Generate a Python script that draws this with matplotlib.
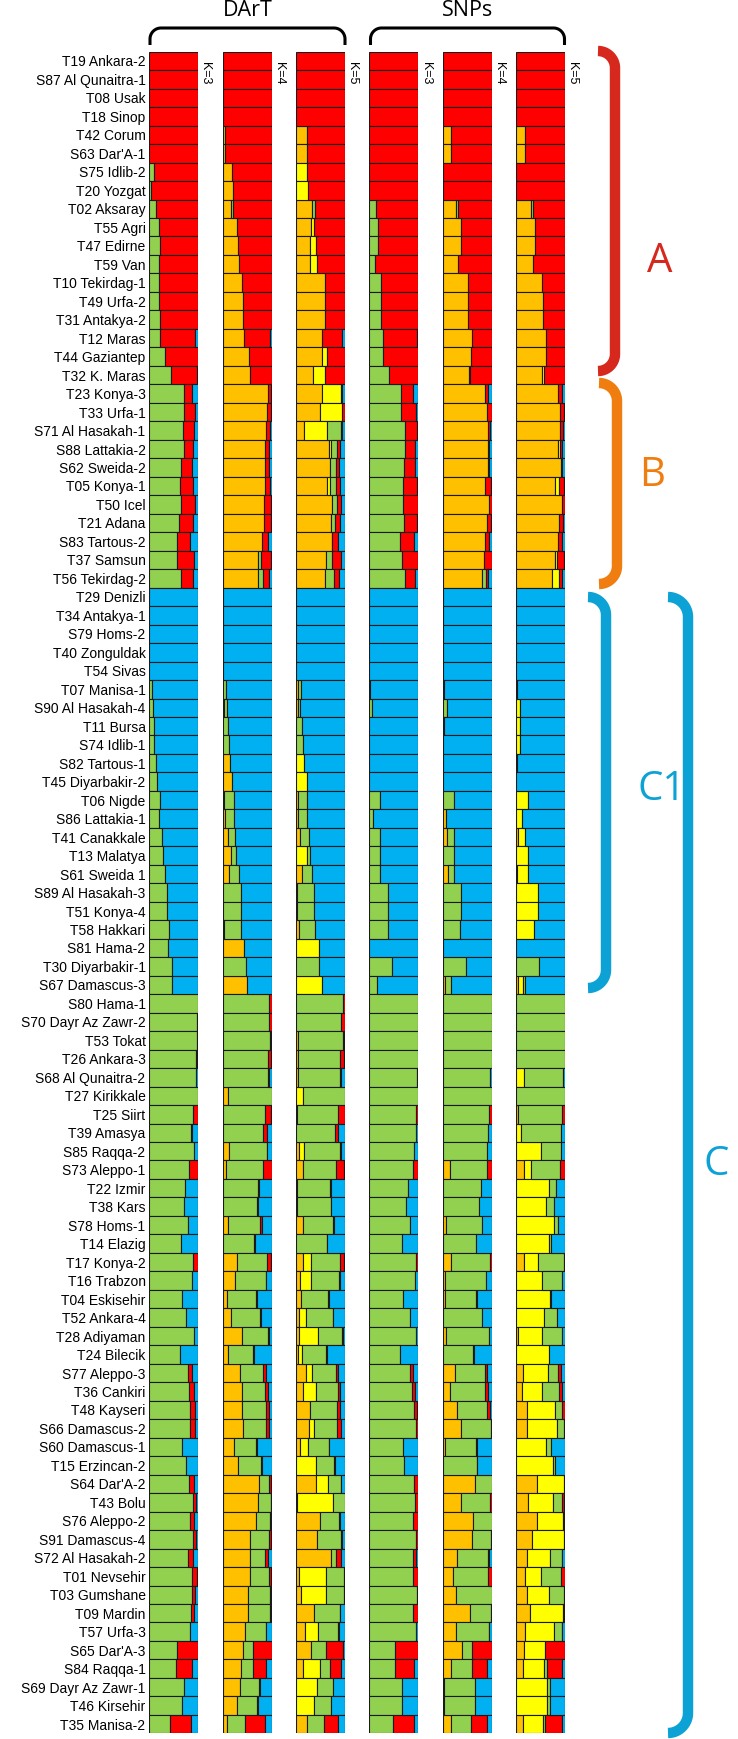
import numpy as np
import matplotlib
matplotlib.use("Agg")
import matplotlib.pyplot as plt

plt.rcParams['font.family'] = ['Liberation Sans', 'DejaVu Sans']

names = [
    "T19 Ankara-2", "S87 Al Qunaitra-1", "T08 Usak", "T18 Sinop", "T42 Corum",
    "S63 Dar'A-1", "S75 Idlib-2", "T20 Yozgat", "T02 Aksaray", "T55 Agri",
    "T47 Edirne", "T59 Van", "T10 Tekirdag-1", "T49 Urfa-2", "T31 Antakya-2",
    "T12 Maras", "T44 Gaziantep", "T32 K. Maras", "T23 Konya-3", "T33 Urfa-1",
    "S71 Al Hasakah-1", "S88 Lattakia-2", "S62 Sweida-2", "T05 Konya-1", "T50 Icel",
    "T21 Adana", "S83 Tartous-2", "T37 Samsun", "T56 Tekirdag-2", "T29 Denizli",
    "T34 Antakya-1", "S79 Homs-2", "T40 Zonguldak", "T54 Sivas", "T07 Manisa-1",
    "S90 Al Hasakah-4", "T11 Bursa", "S74 Idlib-1", "S82 Tartous-1", "T45 Diyarbakir-2",
    "T06 Nigde", "S86 Lattakia-1", "T41 Canakkale", "T13 Malatya", "S61 Sweida 1",
    "S89 Al Hasakah-3", "T51 Konya-4", "T58 Hakkari", "S81 Hama-2", "T30 Diyarbakir-1",
    "S67 Damascus-3", "S80 Hama-1", "S70 Dayr Az Zawr-2", "T53 Tokat", "T26 Ankara-3",
    "S68 Al Qunaitra-2", "T27 Kirikkale", "T25 Siirt", "T39 Amasya", "S85 Raqqa-2",
    "S73 Aleppo-1", "T22 Izmir", "T38 Kars", "S78 Homs-1", "T14 Elazig",
    "T17 Konya-2", "T16 Trabzon", "T04 Eskisehir", "T52 Ankara-4", "T28 Adiyaman",
    "T24 Bilecik", "S77 Aleppo-3", "T36 Cankiri", "T48 Kayseri", "S66 Damascus-2",
    "S60 Damascus-1", "T15 Erzincan-2", "S64 Dar'A-2", "T43 Bolu", "S76 Aleppo-2",
    "S91 Damascus-4", "S72 Al Hasakah-2", "T01 Nevsehir", "T03 Gumshane", "T09 Mardin",
    "T57 Urfa-3", "S65 Dar'A-3", "S84 Raqqa-1", "S69 Dayr Az Zawr-1", "T46 Kirsehir",
    "T35 Manisa-2",
]

# K=3 columns: green, red, blue
dart_k3 = [
    (0,100,0),(0,100,0),(0,100,0),(0,100,0),(0,100,0),(0,100,0),(11,89,0),(5,95,0),
    (14,86,0),(21,79,0),(23,77,0),(21,79,0),(20,80,0),(20,80,0),(22,78,0),(23,70,7),
    (33,67,0),(45,53,2),(71,16,13),(71,23,6),(69,23,8),(71,18,11),(65,22,13),(63,26,11),
    (65,29,6),(61,29,10),(56,28,16),(56,35,9),(65,25,10),
    (0,0,100),(0,0,100),(0,0,100),(0,0,100),(0,0,100),
    (7,0,93),(8,0,92),(10,0,90),(11,0,89),(14,0,86),(16,0,84),(23,0,77),(21,0,79),
    (26,0,74),(28,0,72),(32,0,68),(36,0,64),(36,0,64),(40,0,60),(39,0,61),(47,0,53),
    (47,0,53),
    (100,0,0),(98,2,0),(97,2,1),(96,2,2),(95,0,5),(100,0,0),(89,11,0),(85,3,12),
    (92,0,8),(82,18,0),(74,0,26),(72,0,28),(79,0,21),(66,0,34),(90,10,0),(87,0,13),
    (67,0,33),(75,0,25),(91,0,9),(62,0,38),(80,7,13),(82,9,9),(83,11,6),(83,11,6),
    (67,0,33),(75,0,25),(82,9,9),(90,5,5),(84,8,8),(90,6,4),(80,10,10),(87,10,3),
    (87,7,6),(86,6,8),(84,0,16),(56,44,0),(55,33,12),(71,0,29),(67,0,33),(43,42,15),
]
snp_k3 = [
    (0,100,0),(0,100,0),(0,100,0),(0,100,0),(0,100,0),(0,100,0),(0,100,0),(0,100,0),
    (14,86,0),(18,82,0),(18,82,0),(11,89,0),(23,77,0),(23,77,0),(23,77,0),(28,69,3),
    (28,72,0),(40,60,0),(65,24,11),(64,31,5),(72,24,4),(72,20,8),(70,23,7),(68,29,3),
    (69,30,1),(70,27,3),(62,28,10),(66,33,1),(72,20,8),
    (0,0,100),(0,0,100),(0,0,100),(0,0,100),(0,0,100),
    (2,0,98),(6,0,94),(0,0,100),(0,0,100),(0,0,100),(0,0,100),(22,0,78),(7,0,93),
    (22,0,78),(22,0,78),(22,0,78),(37,0,63),(37,0,63),(37,0,63),(0,0,100),(47,0,53),
    (16,0,84),
    (100,0,0),(100,0,0),(100,0,0),(100,0,0),(97,1,2),(100,0,0),(95,5,0),(94,0,6),
    (91,0,9),(88,12,0),(78,0,22),(74,0,26),(82,0,18),(67,0,33),(95,5,0),(93,0,7),
    (68,0,32),(83,0,17),(95,0,5),(62,0,38),(82,7,11),(86,7,7),(90,7,3),(94,6,0),
    (68,0,32),(70,0,30),(91,9,0),(93,7,0),(89,11,0),(95,5,0),(89,5,6),(89,11,0),
    (96,2,2),(89,11,0),(94,0,6),(53,47,0),(52,39,9),(66,0,34),(66,0,34),(49,41,10),
]

# K=4 columns: orange, green, red, blue
dart_k4 = [
    (0,0,100,0),(0,0,100,0),(0,0,100,0),(0,0,100,0),(4,0,96,0),(4,0,96,0),(18,0,82,0),(21,0,79,0),
    (16,5,79,0),(30,0,70,0),(32,0,68,0),(33,0,67,0),(40,0,60,0),(41,0,59,0),(42,0,58,0),(43,0,54,3),
    (53,0,47,0),(56,0,44,0),(93,0,5,2),(91,0,7,2),(88,0,9,3),(86,0,8,6),(85,0,9,6),(85,0,11,4),
    (83,0,15,2),(83,0,15,2),(80,0,12,8),(71,6,21,2),(71,11,12,6),
    (0,0,0,100),(0,0,0,100),(0,0,0,100),(0,0,0,100),(0,0,0,100),
    (0,7,0,93),(2,6,0,92),(0,11,0,89),(0,13,0,87),(15,0,0,85),(19,0,0,81),(3,19,0,78),(4,18,0,78),
    (10,16,0,74),(17,10,0,73),(12,21,0,67),(0,37,0,63),(0,37,0,63),(3,35,0,62),(43,0,0,57),(0,47,0,53),
    (50,0,0,50),
    (0,95,5,0),(0,95,5,0),(0,96,2,2),(0,92,7,1),(0,92,2,6),(10,90,0,0),(0,86,13,1),(0,82,8,10),
    (13,77,1,9),(7,74,19,0),(0,72,2,26),(0,70,1,29),(11,65,4,20),(0,63,2,35),(29,61,9,1),(25,62,1,12),
    (8,59,2,31),(17,58,2,23),(39,54,2,5),(10,52,2,36),(35,47,7,11),(39,46,8,7),(39,48,8,5),(41,46,8,5),
    (22,46,2,30),(32,45,2,21),(74,21,3,2),(71,27,1,1),(68,28,3,1),(55,40,3,2),(55,31,6,8),(55,39,5,1),
    (52,44,3,1),(51,45,2,2),(46,41,1,12),(41,21,38,0),(37,25,27,11),(35,39,1,25),(30,39,2,29),(8,38,39,15),
]
snp_k4 = [
    (0,0,100,0),(0,0,100,0),(0,0,100,0),(0,0,100,0),(17,0,83,0),(17,0,83,0),(0,0,100,0),(0,0,100,0),
    (28,4,68,0),(37,0,63,0),(37,0,63,0),(32,0,68,0),(52,0,48,0),(52,0,48,0),(52,0,48,0),(59,0,41,0),
    (58,0,42,0),(53,2,45,0),(86,0,7,7),(90,0,10,0),(93,0,4,3),(92,0,2,6),(93,0,2,5),(85,0,14,1),
    (94,0,6,0),(90,0,8,2),(85,0,10,5),(83,0,17,0),(80,7,6,7),
    (0,0,0,100),(0,0,0,100),(0,0,0,100),(0,0,0,100),(0,0,0,100),
    (0,2,0,98),(0,8,0,92),(2,0,0,98),(0,0,0,100),(0,0,0,100),(0,0,0,100),(0,22,0,78),(7,0,0,93),
    (8,14,0,78),(0,22,0,78),(10,12,0,78),(0,37,0,63),(0,37,0,63),(0,35,0,65),(0,0,0,100),(0,47,0,53),
    (5,12,0,83),
    (0,100,0,0),(0,100,0,0),(0,100,0,0),(0,100,0,0),(0,96,0,4),(0,100,0,0),(0,94,6,0),(0,93,0,7),
    (0,90,0,10),(15,76,9,0),(0,77,0,23),(0,73,0,27),(7,73,0,20),(0,68,0,32),(17,80,3,0),(5,84,0,11),
    (4,64,1,31),(0,79,0,21),(7,87,0,6),(0,62,1,37),(24,62,5,9),(15,71,7,7),(30,61,5,4),(37,61,2,0),
    (4,64,1,31),(0,69,1,30),(66,34,0,0),(37,59,4,0),(62,38,0,0),(59,40,1,0),(30,63,2,5),(20,72,8,0),
    (27,73,0,0),(55,44,1,0),(28,66,1,5),(40,20,40,0),(17,42,32,9),(3,62,0,35),(3,63,0,34),(16,41,34,9),
]

# K=5 columns: orange, yellow, green, red, blue
dart_k5 = [
    (0,0,0,100,0),(0,0,0,100,0),(0,0,0,100,0),(1,0,0,99,0),(22,0,0,78,0),(22,0,0,78,0),(0,22,0,78,0),(0,24,0,76,0),
    (33,0,5,62,0),(31,5,0,64,0),(29,11,0,60,0),(29,14,0,57,0),(58,0,0,42,0),(58,0,0,42,0),(58,0,0,42,0),(53,0,0,41,6),
    (53,11,0,36,0),(34,25,0,41,0),(52,40,0,1,7),(48,46,0,5,1),(17,45,30,2,6),(68,3,13,6,10),(70,0,11,7,12),(61,6,11,7,11),
    (73,0,10,9,8),(71,0,8,10,11),(73,0,1,12,14),(61,0,12,18,9),(59,0,19,9,13),
    (0,0,0,0,100),(0,0,0,0,100),(0,0,0,0,100),(0,0,0,0,100),(0,0,0,0,100),
    (5,0,5,0,90),(4,0,5,0,91),(0,0,12,0,88),(0,0,14,0,86),(0,17,0,0,83),(0,22,0,0,78),(4,0,18,0,78),(4,0,19,0,77),
    (9,0,17,0,74),(0,22,7,0,71),(12,0,21,0,67),(3,0,33,0,64),(3,0,34,0,63),(6,0,33,0,61),(0,47,0,0,53),(0,0,47,0,53),
    (0,53,0,0,47),
    (0,0,95,5,0),(0,0,92,7,1),(5,0,91,1,3),(4,0,86,7,3),(4,0,86,2,8),(0,15,85,0,0),(2,0,83,14,1),(0,0,79,6,15),
    (7,10,73,1,9),(14,0,68,16,2),(3,0,67,2,28),(0,3,68,1,28),(14,0,62,2,22),(0,0,62,2,36),(14,15,57,8,2),(8,23,56,2,11),
    (10,0,56,2,32),(7,14,54,1,24),(7,38,49,2,4),(5,8,47,2,38),(20,12,47,5,14),(14,27,44,5,10),(29,0,55,6,10),(27,10,47,8,8),
    (9,15,43,1,32),(0,41,37,1,21),(41,24,26,1,8),(3,73,24,0,0),(48,0,37,2,11),(42,0,49,2,7),(71,0,11,9,9),(7,54,36,3,0),
    (10,51,37,1,1),(37,0,52,1,10),(19,25,41,2,13),(31,0,29,36,4),(14,35,21,21,9),(0,43,33,0,24),(0,36,36,0,28),(22,0,33,28,15),
]
snp_k5 = [
    (0,0,0,100,0),(0,0,0,100,0),(0,0,0,100,0),(0,0,0,100,0),(19,0,0,81,0),(19,0,0,81,0),(0,0,0,100,0),(0,0,0,100,0),
    (30,0,5,65,0),(38,0,0,62,0),(38,0,0,62,0),(34,0,0,66,0),(53,0,0,47,0),(54,0,0,46,0),(54,0,0,46,0),(61,0,0,39,0),
    (60,0,0,40,0),(52,5,0,43,0),(86,0,0,7,7),(90,0,0,8,2),(90,0,0,6,4),(85,5,0,4,6),(91,0,0,2,7),(80,7,0,11,2),
    (93,0,0,6,1),(88,0,0,7,5),(85,0,0,8,7),(80,4,0,14,2),(73,14,0,6,7),
    (0,0,0,0,100),(0,0,0,0,100),(0,0,0,0,100),(0,0,0,0,100),(0,0,0,0,100),
    (3,0,0,0,97),(0,9,0,0,91),(0,9,0,0,91),(0,9,0,0,91),(2,0,0,0,98),(0,0,0,0,100),(0,25,0,0,75),(0,12,0,0,88),
    (4,15,0,0,81),(0,25,0,0,75),(3,22,0,0,75),(0,44,0,0,56),(0,44,0,0,56),(0,37,0,0,63),(0,0,0,0,100),(0,0,46,0,54),
    (4,10,4,0,82),
    (0,0,100,0,0),(0,0,100,0,0),(0,0,100,0,0),(0,0,100,0,0),(0,16,80,0,4),(0,0,100,0,0),(4,0,90,6,0),(0,11,80,0,9),
    (0,51,41,0,8),(16,14,60,10,0),(0,67,14,0,19),(0,61,16,0,23),(0,78,7,0,15),(0,68,4,0,28),(16,29,52,3,0),(0,53,40,0,7),
    (0,69,3,0,28),(0,57,27,0,16),(4,49,40,0,7),(0,68,0,0,32),(15,51,20,5,9),(13,39,36,5,7),(23,56,14,7,0),(23,61,14,0,2),
    (0,61,10,0,29),(0,76,3,0,21),(43,55,0,2,0),(24,52,17,5,2),(42,54,2,2,0),(32,66,0,2,0),(22,47,24,1,6),(18,32,41,9,0),
    (22,46,29,3,0),(28,68,2,2,0),(18,59,16,1,6),(17,42,0,40,1),(14,43,7,30,6),(0,62,8,0,30),(0,64,5,0,31),(14,40,5,34,7),
]

k_labels = ["K=3", "K=4", "K=5", "K=3", "K=4", "K=5"]
group_titles = ["DArT", "SNPs"]
cluster_labels = ["A", "B", "C1", "C"]

GREEN, RED, BLUE, ORANGE, YELLOW = "#92d050", "#ff0000", "#00b0f0", "#ffc000", "#ffff00"
col3 = [GREEN, RED, BLUE]
col4 = [ORANGE, GREEN, RED, BLUE]
col5 = [ORANGE, YELLOW, GREEN, RED, BLUE]

panels = [(dart_k3, col3), (dart_k4, col4), (dart_k5, col5),
          (snp_k3, col3), (snp_k4, col4), (snp_k5, col5)]

W, H = 738, 1739
fig = plt.figure(figsize=(W / 100, H / 100), dpi=100)

lefts = [149, 222.7, 296, 369.3, 442.7, 516]
pw = 49.2
top_px, row_h = 51.7, 18.48
n = len(names)
bot_px = top_px + n * row_h

y = np.arange(n)
axes = []
for p, (data, cols) in enumerate(panels):
    ax = fig.add_axes([lefts[p] / W, 1 - bot_px / H, pw / W, (bot_px - top_px) / H])
    arr = np.array(data, dtype=float)
    arr = arr / arr.sum(axis=1, keepdims=True)
    cum = np.zeros(n)
    for j, c in enumerate(cols):
        w = arr[:, j]
        m = w > 0
        ax.barh(y[m], w[m], left=cum[m], height=1.0, color=c,
                edgecolor="#1a1a1a", linewidth=0.8)
        cum = cum + w
    ax.set_xlim(0, 1)
    ax.set_ylim(n - 0.5, -0.5)
    for s in ax.spines.values():
        s.set_visible(False)
    ax.set_xticks([])
    if p == 0:
        ax.set_yticks(y)
        ax.set_yticklabels(names, fontsize=10)
        ax.tick_params(axis="y", length=0, pad=2.5)
    else:
        ax.set_yticks([])
    axes.append(ax)

# overlay in pixel coordinates for annotations
ov = fig.add_axes([0, 0, 1, 1], facecolor="none")
ov.set_xlim(0, W)
ov.set_ylim(H, 0)
ov.axis("off")

for p in range(6):
    ov.text(lefts[p] + pw + 7, 62, k_labels[p], rotation=270, ha="center", va="top",
            fontsize=9)

def top_bracket(xl, xr, yt, ye, r):
    th = np.linspace(0, np.pi / 2, 20)
    xs = [xl] + list(xl + r * (1 - np.cos(th))) + list(xr - r * (1 - np.cos(th[::-1]))) + [xr]
    ys = [ye] + list(yt + r * (1 - np.sin(th))) + list(yt + r * (1 - np.sin(th[::-1]))) + [ye]
    ov.plot(xs, ys, color="black", lw=2.2, solid_capstyle="butt")

top_bracket(150, 345, 28, 45, 11)
top_bracket(370.5, 564.5, 28, 45, 11)
ov.text(248, 11, group_titles[0], ha="center", va="center", fontsize=15.5, family="Open Sans")
ov.text(468, 11, group_titles[1], ha="center", va="center", fontsize=15.5, family="Open Sans")

def side_bracket(x0, xv, yt, yb, color, lw):
    r = xv - x0
    th = np.linspace(0, np.pi / 2, 25)
    xs = list(x0 + r * np.sin(th)) + list(x0 + r * np.sin(th[::-1]))
    ys = list(yt + r * (1 - np.cos(th))) + list(yb - r * (1 - np.cos(th[::-1])))
    ov.plot(xs, ys, color=color, lw=lw, solid_capstyle="butt", solid_joinstyle="round")

CA, CB, CC = "#d7281e", "#ef7d0f", "#0ca2d5"
side_bracket(598, 615, 51, 371, CA, 7.5)
side_bracket(599, 617, 383, 584, CB, 7.5)
side_bracket(588, 606, 597, 988, CC, 7.5)
side_bracket(668, 688, 597, 1733, CC, 7.5)

ov.text(660, 262, cluster_labels[0], color=CA, ha="center", va="center", fontsize=29, family="Open Sans")
ov.text(652, 476, cluster_labels[1], color=CB, ha="center", va="center", fontsize=29, family="Open Sans")
ov.text(662, 790, cluster_labels[2], color=CC, ha="center", va="center", fontsize=29, family="Open Sans")
ov.text(716, 1165, cluster_labels[3], color=CC, ha="center", va="center", fontsize=29, family="Open Sans")

fig.savefig("out.png", dpi=100)
